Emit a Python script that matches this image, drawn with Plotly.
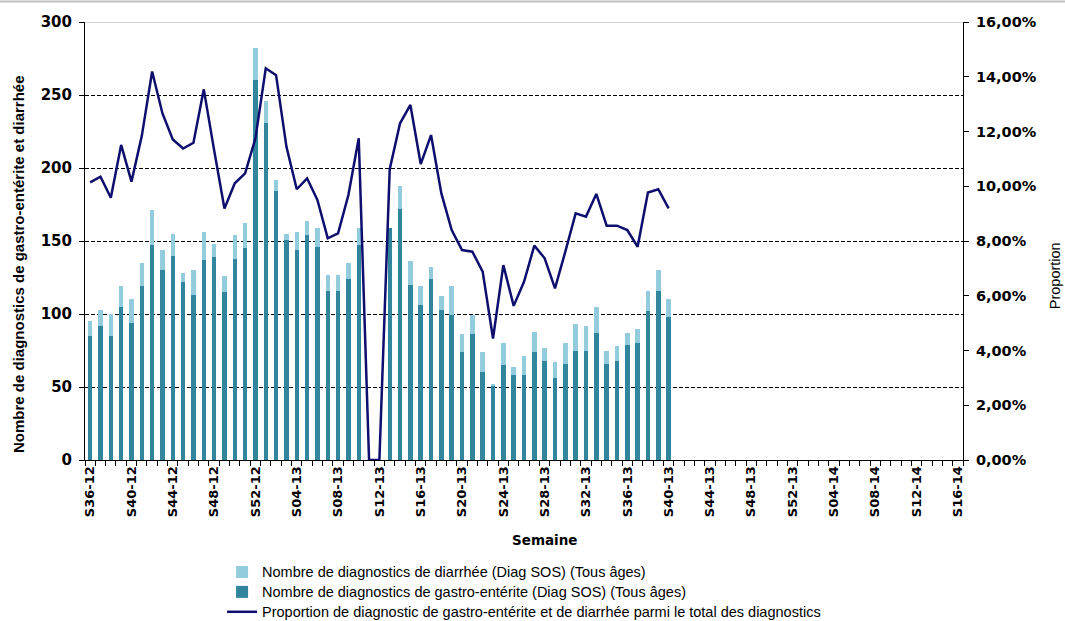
import plotly.graph_objects as go

# ---------------- data ----------------
weeks = ([f"S{w:02d}-12" for w in range(36, 53)]
         + [f"S{w:02d}-13" for w in range(1, 53)]
         + [f"S{w:02d}-14" for w in range(1, 17)])

shown_labels = ["S36-12", "S40-12", "S44-12", "S48-12", "S52-12", "S04-13", "S08-13",
                "S12-13", "S16-13", "S20-13", "S24-13", "S28-13", "S32-13", "S36-13",
                "S40-13", "S44-13", "S48-13", "S52-13", "S04-14", "S08-14", "S12-14",
                "S16-14"]

data_weeks = weeks[:57]  # S36-12 .. S40-13

gastro = [85, 92, 85, 105, 94, 119, 147, 130, 140, 122, 113, 137, 139, 115, 138, 145,
          260, 231, 184, 151, 144, 154, 146, 116, 116, 124, 147, 0, 0, 159, 172, 120,
          106, 124, 103, 99, 74, 86, 60, 51, 65, 58, 58, 74, 68, 56, 66, 75, 75, 87,
          66, 68, 79, 80, 102, 116, 98]

total = [95, 103, 100, 119, 110, 135, 171, 144, 155, 128, 130, 156, 148, 126, 154, 162,
         282, 246, 192, 155, 156, 164, 159, 127, 127, 135, 159, 0, 0, 159, 188, 136,
         119, 132, 112, 119, 86, 99, 74, 52, 80, 64, 71, 88, 77, 67, 80, 93, 92, 105,
         75, 78, 87, 90, 116, 130, 110]

diarrhee = [t - g for t, g in zip(total, gastro)]

proportion = [10.14, 10.35, 9.58, 11.51, 10.17, 11.84, 14.19, 12.66, 11.71, 11.38, 11.59,
              13.54, 11.32, 9.19, 10.11, 10.47, 11.75, 14.31, 14.06, 11.45, 9.89, 10.29,
              9.50, 8.10, 8.28, 9.68, 11.75, 0.0, 0.0, 10.62, 12.30, 12.97, 10.81, 11.87,
              9.74, 8.40, 7.67, 7.61, 6.88, 4.44, 7.12, 5.63, 6.51, 7.83, 7.37, 6.27, 7.61,
              9.01, 8.89, 9.72, 8.56, 8.56, 8.40, 7.79, 9.77, 9.89, 9.19]
proportion = [p / 100 for p in proportion]

series_names = [
    "Nombre de diagnostics de gastro-entérite (Diag SOS) (Tous âges)",
    "Nombre de diagnostics de diarrhée (Diag SOS) (Tous âges)",
    "Proportion de diagnostic de gastro-entérite et de diarrhée parmi le total des diagnostics",
]

# ---------------- style ----------------
C_LIGHT = "#93CDDD"
C_DARK = "#31859C"
C_LINE = "#0E0E6E"
TICK_FONT = "DejaVu Sans"
TXT_FONT = "Liberation Sans, Arial, sans-serif"


def legend_label(s):
    return f"<span style='font-size:14.5px'>{s}</span>"


fig = go.Figure()

fig.add_trace(go.Bar(
    x=data_weeks, y=gastro, name=legend_label(series_names[0]),
    marker=dict(color=C_DARK, line=dict(width=0)), legendrank=2, yaxis="y"))
fig.add_trace(go.Bar(
    x=data_weeks, y=diarrhee, name=legend_label(series_names[1]),
    marker=dict(color=C_LIGHT, line=dict(width=0)), legendrank=1, yaxis="y"))
fig.add_trace(go.Scatter(
    x=data_weeks, y=proportion, mode="lines", name=legend_label(series_names[2]),
    line=dict(color=C_LINE, width=2.5), legendrank=3, yaxis="y2"))

ticktext = [w if w in shown_labels else "" for w in weeks]

fig.update_layout(
    width=1065, height=621,
    margin=dict(l=85, r=102, t=22, b=161, autoexpand=False),
    plot_bgcolor="white", paper_bgcolor="white",
    barmode="stack", bargap=0.57,
    separators=", ",
    showlegend=True,
    legend=dict(x=0.2085, y=0.103, xref="container", yref="container",
                xanchor="left", yanchor="top",
                traceorder="normal", orientation="v",
                font=dict(family=TXT_FONT, size=13, color="#000"),
                bgcolor="rgba(0,0,0,0)", itemwidth=30, tracegroupgap=0),
    xaxis=dict(
        type="category", categoryorder="array", categoryarray=weeks,
        range=[-0.5, len(weeks) - 0.5],
        tickmode="array", tickvals=weeks, ticktext=ticktext,
        tickangle=-90, tickson="boundaries", ticks="outside", ticklen=5,
        tickcolor="#000", tickwidth=1,
        tickfont=dict(family=TICK_FONT, size=13, color="#000", weight="bold"),
        showline=True, linecolor="#000", linewidth=1,
        showgrid=False, zeroline=False),
    yaxis=dict(
        range=[0, 300], dtick=50, tick0=0,
        ticks="outside", ticklen=5, tickcolor="#000", ticklabelstandoff=4,
        tickfont=dict(family=TICK_FONT, size=15, color="#000", weight="bold"),
        showline=True, linecolor="#000", linewidth=1,
        showgrid=True, gridcolor="#000", gridwidth=1, griddash="4px,2px",
        zeroline=False),
    yaxis2=dict(
        range=[0, 0.16], dtick=0.02, tickformat=".2%",
        overlaying="y", side="right",
        ticks="outside", ticklen=5, tickcolor="#000", ticklabelstandoff=4,
        tickfont=dict(family=TICK_FONT, size=14.5, color="#000", weight="bold"),
        showline=True, linecolor="#000", linewidth=1,
        showgrid=False, zeroline=False),
    annotations=[
        dict(text="<b>Nombre de diagnostics de gastro-entérite et diarrhée</b>",
             xref="paper", yref="paper", x=-0.0765, y=0.447, textangle=-90,
             showarrow=False, xanchor="center", yanchor="middle",
             font=dict(family=TXT_FONT, size=15, color="#000")),
        dict(text="Proportion", xref="paper", yref="paper", x=1.105, y=0.42,
             textangle=-90, showarrow=False, xanchor="center", yanchor="middle",
             font=dict(family=TXT_FONT, size=14.5, color="#000")),
        dict(text="<b>Semaine</b>", xref="paper", yref="paper", x=0.523, y=-0.1826,
             showarrow=False, xanchor="center", yanchor="middle",
             font=dict(family=TICK_FONT, size=13.5, color="#000")),
    ],
    shapes=[
        dict(type="line", xref="paper", yref="y", x0=0, x1=1, y0=300, y1=300,
             line=dict(color="#A6A6A6", width=1.2)),
        dict(type="line", xref="paper", yref="paper", x0=-0.1, x1=1.12, y0=1.047, y1=1.047,
             line=dict(color="#BFBFBF", width=2)),
    ],
)

fig.write_html("out.html", config={"displayModeBar": False},
               post_script="document.body.style.margin='0';")
